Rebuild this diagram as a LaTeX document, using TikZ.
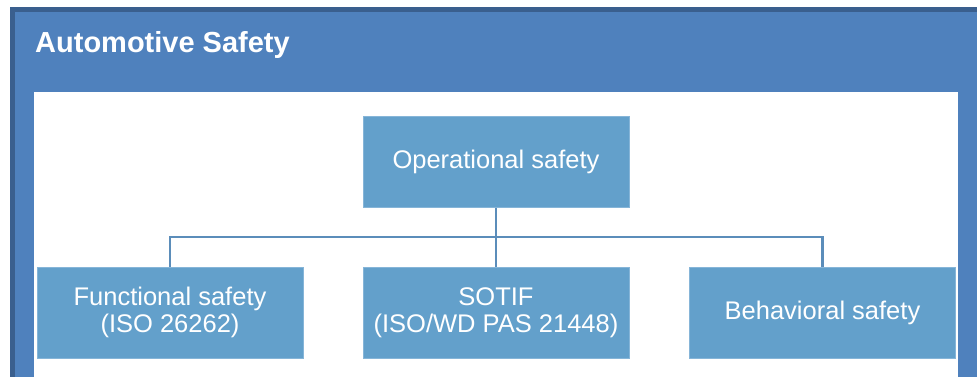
\documentclass[tikz,border=0pt]{standalone}
\usepackage{fontspec}
\setmainfont{Liberation Sans}
\usetikzlibrary{calc,positioning}
\definecolor{PanelBlue}{HTML}{4F81BD}
\definecolor{PanelEdge}{HTML}{3A5F8E}
\definecolor{BoxBlue}{HTML}{63A0CB}
\definecolor{BoxEdge}{HTML}{86B5D8}
\definecolor{LinkBlue}{HTML}{5B8DBA}
\tikzset{
    safetybox/.style={draw=BoxEdge, line width=0.8pt, fill=BoxBlue, text=white,
        minimum width=266pt, minimum height=91pt, inner sep=0pt, align=center,
        font=\fontsize{25.5}{27}\selectfont},
    link/.style={LinkBlue, line width=2.4pt}
}

\begin{document}
\begin{tikzpicture}[x=1pt, y=-1pt]
\useasboundingbox (0,0) rectangle (977,376);

% outer panel and white canvas
\fill[white] (0,0) rectangle (977,376);
\draw[PanelEdge, line width=5pt, fill=PanelBlue] (983,385) -- (12.5,385) -- (12.5,9.5) -- (983,9.5);
\fill[white] (34,92) rectangle (958,385);
\node[anchor=base west, text=white, inner sep=0pt, font=\fontsize{29}{31}\selectfont\bfseries]
    (title) at (35,52) {Automotive Safety};

% boxes
\node[safetybox] (op)    at (496,162)   {Operational safety};
\node[safetybox] (func)  at (170,312.5) {Functional safety\\(ISO 26262)};
\node[safetybox] (sotif) at (496,312.5) {SOTIF\\(ISO/WD PAS 21448)};
\node[safetybox] (beh)   at (822.5,312.5) {Behavioral safety};

% connectors
\coordinate (bus) at (496,237);
\draw[link] (op.south) -- (bus);
\draw[link] (func.north) |- (bus) -| (beh.north);
\draw[link] (bus) -- (sotif.north);

\end{tikzpicture}
\end{document}
